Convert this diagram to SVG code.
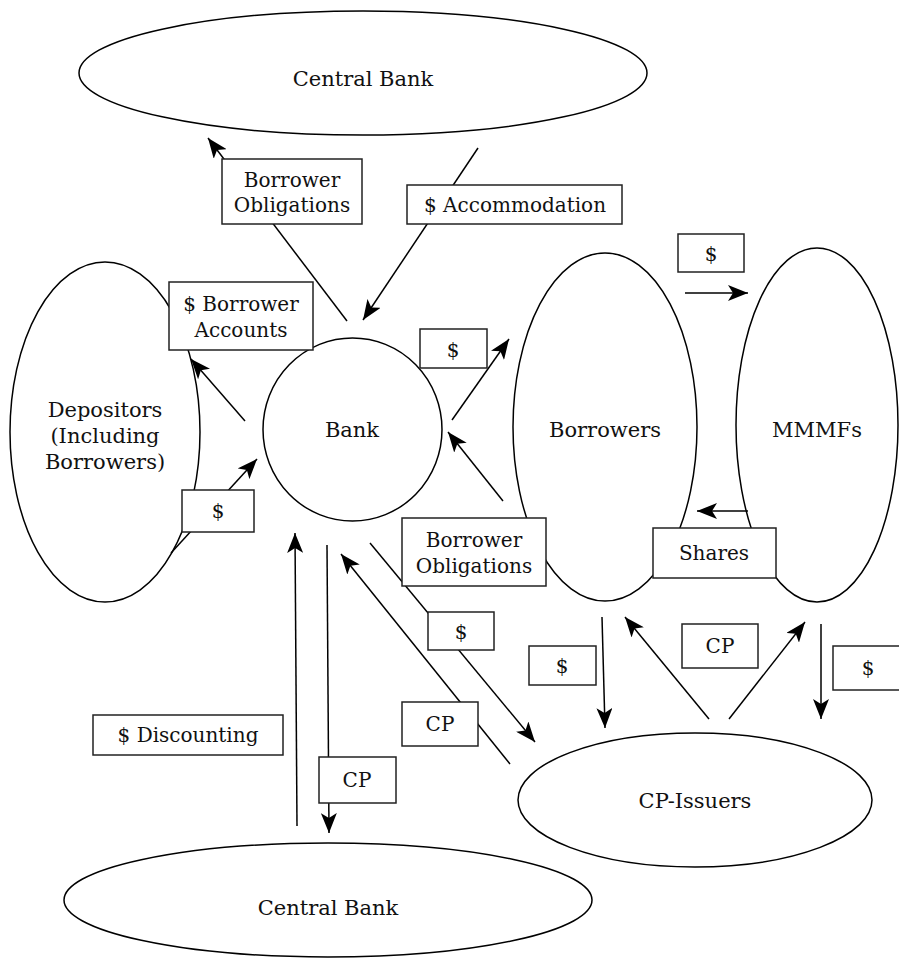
<svg xmlns="http://www.w3.org/2000/svg" width="899" height="960" viewBox="0 0 899 960">
<style>
.n{fill:#fff;stroke:#000;stroke-width:1.5}
.b{fill:#fff;stroke:#222;stroke-width:1.5}
.t{font-family:"DejaVu Serif","Liberation Serif",serif;font-size:20px;fill:#111;text-anchor:middle}
.nt{font-size:21px}
.c{stroke:#000;stroke-width:1.5;fill:none;marker-end:url(#ah)}
</style>
<defs>
<marker id="ah" markerUnits="userSpaceOnUse" markerWidth="22" markerHeight="16" refX="20" refY="8" orient="auto">
<path d="M0,0 L20,8 L0,16 L5,8 z" fill="#000"/>
</marker>
</defs>
<rect width="899" height="960" fill="#fff"/>
<g id="cb-top"><ellipse class="n" cx="363" cy="73" rx="284" ry="62"/><text class="t nt" x="363" y="86">Central Bank</text></g>
<g id="cb-bottom"><ellipse class="n" cx="328" cy="900" rx="264" ry="57"/><text class="t nt" x="328" y="915">Central Bank</text></g>
<g id="depositors"><ellipse class="n" cx="105" cy="432" rx="95" ry="170"/><text class="t nt" x="105" y="417">Depositors</text><text class="t nt" x="105" y="443">(Including</text><text class="t nt" x="105" y="469">Borrowers)</text></g>
<g id="bank"><ellipse class="n" cx="352.5" cy="429.5" rx="89.5" ry="91.5"/><text class="t nt" x="352" y="437">Bank</text></g>
<g id="borrowers"><ellipse class="n" cx="605" cy="427" rx="92" ry="174"/><text class="t nt" x="605" y="437">Borrowers</text></g>
<g id="mmmfs"><ellipse class="n" cx="817" cy="425" rx="81" ry="177"/><text class="t nt" x="817" y="437">MMMFs</text></g>
<g id="cp-issuers"><ellipse class="n" cx="695" cy="800" rx="177" ry="67"/><text class="t nt" x="695" y="808">CP-Issuers</text></g>
<g id="connectors">
<line class="c" x1="347" y1="321" x2="208" y2="138"/>
<line class="c" x1="478" y1="148" x2="363" y2="320"/>
<line class="c" x1="245" y1="421" x2="191" y2="359"/>
<line class="c" x1="171" y1="553" x2="257" y2="459"/>
<line class="c" x1="452" y1="420" x2="509" y2="339"/>
<line class="c" x1="503" y1="501" x2="448" y2="432"/>
<line class="c" x1="685" y1="293" x2="748" y2="293"/>
<line class="c" x1="748" y1="511" x2="697" y2="511"/>
<line class="c" x1="602" y1="617" x2="605" y2="728"/>
<line class="c" x1="709" y1="719" x2="625" y2="617"/>
<line class="c" x1="729" y1="719" x2="805" y2="622"/>
<line class="c" x1="821" y1="624" x2="821" y2="719"/>
<line class="c" x1="370" y1="543" x2="535" y2="742"/>
<line class="c" x1="510" y1="764" x2="341" y2="554"/>
<line class="c" x1="327" y1="545" x2="329" y2="833"/>
<line class="c" x1="297" y1="826" x2="295" y2="533"/>
</g>
<g id="lbl-bo-top"><rect class="b" x="222" y="159" width="140" height="65"/><text class="t" x="292" y="187">Borrower</text><text class="t" x="292" y="212">Obligations</text></g>
<g id="lbl-accommodation"><rect class="b" x="407" y="185" width="215" height="39"/><text class="t" x="515" y="212">$ Accommodation</text></g>
<g id="lbl-accounts"><rect class="b" x="169" y="282" width="144" height="68"/><text class="t" x="241" y="311">$ Borrower</text><text class="t" x="241" y="337">Accounts</text></g>
<g id="lbl-dep-dollar"><rect class="b" x="182" y="490" width="72" height="42"/><text class="t" x="218" y="518">$</text></g>
<g id="lbl-bank-dollar"><rect class="b" x="420" y="329" width="67" height="39"/><text class="t" x="453" y="357">$</text></g>
<g id="lbl-mmmf-dollar"><rect class="b" x="678" y="234" width="66" height="38"/><text class="t" x="711" y="261">$</text></g>
<g id="lbl-bo-mid"><rect class="b" x="402" y="518" width="144" height="68"/><text class="t" x="474" y="547">Borrower</text><text class="t" x="474" y="573">Obligations</text></g>
<g id="lbl-shares"><rect class="b" x="653" y="528" width="123" height="50"/><text class="t" x="714" y="560">Shares</text></g>
<g id="lbl-cp-dollar"><rect class="b" x="428" y="612" width="66" height="38"/><text class="t" x="461" y="639">$</text></g>
<g id="lbl-bor-dollar"><rect class="b" x="529" y="646" width="67" height="39"/><text class="t" x="562" y="673">$</text></g>
<g id="lbl-cp-top"><rect class="b" x="682" y="624" width="76" height="44"/><text class="t" x="720" y="653">CP</text></g>
<g id="lbl-mm-dollar"><rect class="b" x="833" y="646" width="70" height="44"/><text class="t" x="868" y="675">$</text></g>
<g id="lbl-cp-mid"><rect class="b" x="402" y="702" width="76" height="44"/><text class="t" x="440" y="731">CP</text></g>
<g id="lbl-discounting"><rect class="b" x="93" y="715" width="190" height="40"/><text class="t" x="188" y="742">$ Discounting</text></g>
<g id="lbl-cp-bottom"><rect class="b" x="319" y="757" width="77" height="46"/><text class="t" x="357" y="787">CP</text></g>
</svg>
